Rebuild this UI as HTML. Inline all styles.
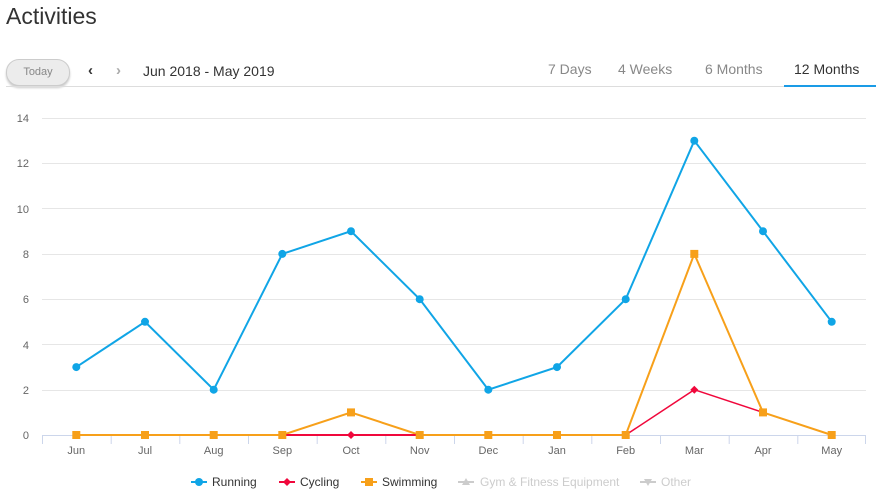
<!DOCTYPE html>
<html><head><meta charset="utf-8"><style>
body{margin:0;width:886px;height:497px;background:#fff;font-family:"Liberation Sans",sans-serif;overflow:hidden;position:relative}
.t{position:absolute;white-space:nowrap}
</style></head><body>
<div class="t" style="left:6px;top:3px;font-size:23px;color:#333;font-weight:300">Activities</div>
<div class="t" style="left:6px;top:59px;width:62px;height:25px;border:1px solid #ccc;border-radius:13px;background:#ececec;box-shadow:0 2px 2px #ccc;font-size:11px;color:#888;text-align:center;line-height:25px">Today</div>
<div class="t" style="left:88px;top:62px;font-size:15px;color:#333;font-weight:bold">&#8249;</div>
<div class="t" style="left:116px;top:62px;font-size:15px;color:#aaa;font-weight:bold">&#8250;</div>
<div class="t" style="left:143px;top:63px;font-size:14px;color:#333">Jun 2018 - May 2019</div>
<div class="t" style="left:548px;top:61px;font-size:14px;color:#888">7 Days</div>
<div class="t" style="left:618px;top:61px;font-size:14px;color:#888">4 Weeks</div>
<div class="t" style="left:705px;top:61px;font-size:14px;color:#888">6 Months</div>
<div class="t" style="left:794px;top:61px;font-size:14px;color:#333">12 Months</div>
<div class="t" style="left:6px;top:86px;width:870px;height:1px;background:#ddd"></div>
<div class="t" style="left:784px;top:85px;width:92px;height:2px;background:#1a9be6"></div>
<svg width="886" height="497" style="position:absolute;left:0;top:0">
<g stroke="#e6e6e6" stroke-width="1">
<line x1="42" x2="866" y1="118.5" y2="118.5"/><line x1="42" x2="866" y1="163.5" y2="163.5"/><line x1="42" x2="866" y1="208.5" y2="208.5"/><line x1="42" x2="866" y1="254.5" y2="254.5"/><line x1="42" x2="866" y1="299.5" y2="299.5"/><line x1="42" x2="866" y1="344.5" y2="344.5"/><line x1="42" x2="866" y1="390.5" y2="390.5"/>
</g>
<line x1="42" x2="866" y1="435.5" y2="435.5" stroke="#ccd6eb"/>
<g stroke="#ccd6eb">
<line x1="42.5" x2="42.5" y1="435" y2="444"/><line x1="111.2" x2="111.2" y1="435" y2="444"/><line x1="179.8" x2="179.8" y1="435" y2="444"/><line x1="248.5" x2="248.5" y1="435" y2="444"/><line x1="317.2" x2="317.2" y1="435" y2="444"/><line x1="385.8" x2="385.8" y1="435" y2="444"/><line x1="454.5" x2="454.5" y1="435" y2="444"/><line x1="523.2" x2="523.2" y1="435" y2="444"/><line x1="591.8" x2="591.8" y1="435" y2="444"/><line x1="660.5" x2="660.5" y1="435" y2="444"/><line x1="729.2" x2="729.2" y1="435" y2="444"/><line x1="797.8" x2="797.8" y1="435" y2="444"/><line x1="865.5" x2="865.5" y1="435" y2="444"/>
</g>
<g font-size="11" fill="#666" text-anchor="end">
<text x="29" y="122">14</text><text x="29" y="167">12</text><text x="29" y="213">10</text><text x="29" y="258">8</text><text x="29" y="303">6</text><text x="29" y="349">4</text><text x="29" y="394">2</text><text x="29" y="439">0</text>
</g>
<g font-size="11" fill="#666" text-anchor="middle">
<text x="76.3" y="454">Jun</text><text x="145" y="454">Jul</text><text x="213.7" y="454">Aug</text><text x="282.3" y="454">Sep</text><text x="351" y="454">Oct</text><text x="419.7" y="454">Nov</text><text x="488.3" y="454">Dec</text><text x="557" y="454">Jan</text><text x="625.7" y="454">Feb</text><text x="694.3" y="454">Mar</text><text x="763" y="454">Apr</text><text x="831.7" y="454">May</text>
</g>
<polyline fill="none" stroke="#10a5e6" stroke-width="2" points="76.3,367.1 145,321.8 213.7,389.7 282.3,253.9 351,231.2 419.7,299.2 488.3,389.7 557,367.1 625.7,299.2 694.3,140.7 763,231.2 831.7,321.8"/>
<g fill="#10a5e6">
<circle cx="76.3" cy="367.1" r="4"/><circle cx="145" cy="321.8" r="4"/><circle cx="213.7" cy="389.7" r="4"/><circle cx="282.3" cy="253.9" r="4"/><circle cx="351" cy="231.2" r="4"/><circle cx="419.7" cy="299.2" r="4"/><circle cx="488.3" cy="389.7" r="4"/><circle cx="557" cy="367.1" r="4"/><circle cx="625.7" cy="299.2" r="4"/><circle cx="694.3" cy="140.7" r="4"/><circle cx="763" cy="231.2" r="4"/><circle cx="831.7" cy="321.8" r="4"/>
</g>
<polyline fill="none" stroke="#f7a01a" stroke-width="2" points="76.3,435 145,435 213.7,435 282.3,435 351,412.4 419.7,435 488.3,435 557,435 625.7,435 694.3,253.9 763,412.4 831.7,435"/>
<polyline fill="none" stroke="#f0083c" stroke-width="2" points="282.3,435 351,435 419.7,435 M625.7,435 694.3,389.7 763,412.4 831.7,435"/>
<polyline fill="none" stroke="#f0083c" stroke-width="1.5" points="625.7,435 694.3,389.7 763,412.4"/>
<g fill="#f0083c">
<path d="M351 431l4 4-4 4-4-4z"/><path d="M694.3 385.7l4 4-4 4-4-4z"/>
</g>
<g fill="#f7a01a">
<rect x="72.3" y="431" width="8" height="8"/><rect x="141" y="431" width="8" height="8"/><rect x="209.7" y="431" width="8" height="8"/><rect x="278.3" y="431" width="8" height="8"/><rect x="347" y="408.4" width="8" height="8"/><rect x="415.7" y="431" width="8" height="8"/><rect x="484.3" y="431" width="8" height="8"/><rect x="553" y="431" width="8" height="8"/><rect x="621.7" y="431" width="8" height="8"/><rect x="690.3" y="249.9" width="8" height="8"/><rect x="759" y="408.4" width="8" height="8"/><rect x="827.7" y="431" width="8" height="8"/>
</g>
<g font-size="12">
<line x1="191" x2="207" y1="482" y2="482" stroke="#10a5e6" stroke-width="2"/><circle cx="199" cy="482" r="4" fill="#10a5e6"/><text x="212" y="486" fill="#333">Running</text>
<line x1="279" x2="295" y1="482" y2="482" stroke="#f0083c" stroke-width="2"/><path d="M287 478l4 4-4 4-4-4z" fill="#f0083c"/><text x="300" y="486" fill="#333">Cycling</text>
<line x1="361" x2="377" y1="482" y2="482" stroke="#f7a01a" stroke-width="2"/><rect x="365" y="478" width="8" height="8" fill="#f7a01a"/><text x="382" y="486" fill="#333">Swimming</text>
<line x1="458" x2="474" y1="482" y2="482" stroke="#ccc" stroke-width="2"/><path d="M466 478l4 7h-8z" fill="#ccc"/><text x="480" y="486" fill="#ccc">Gym &amp; Fitness Equipment</text>
<line x1="640" x2="656" y1="482" y2="482" stroke="#ccc" stroke-width="2"/><path d="M648 486l4-7h-8z" fill="#ccc"/><text x="661" y="486" fill="#ccc">Other</text>
</g>
</svg>
</body></html>
